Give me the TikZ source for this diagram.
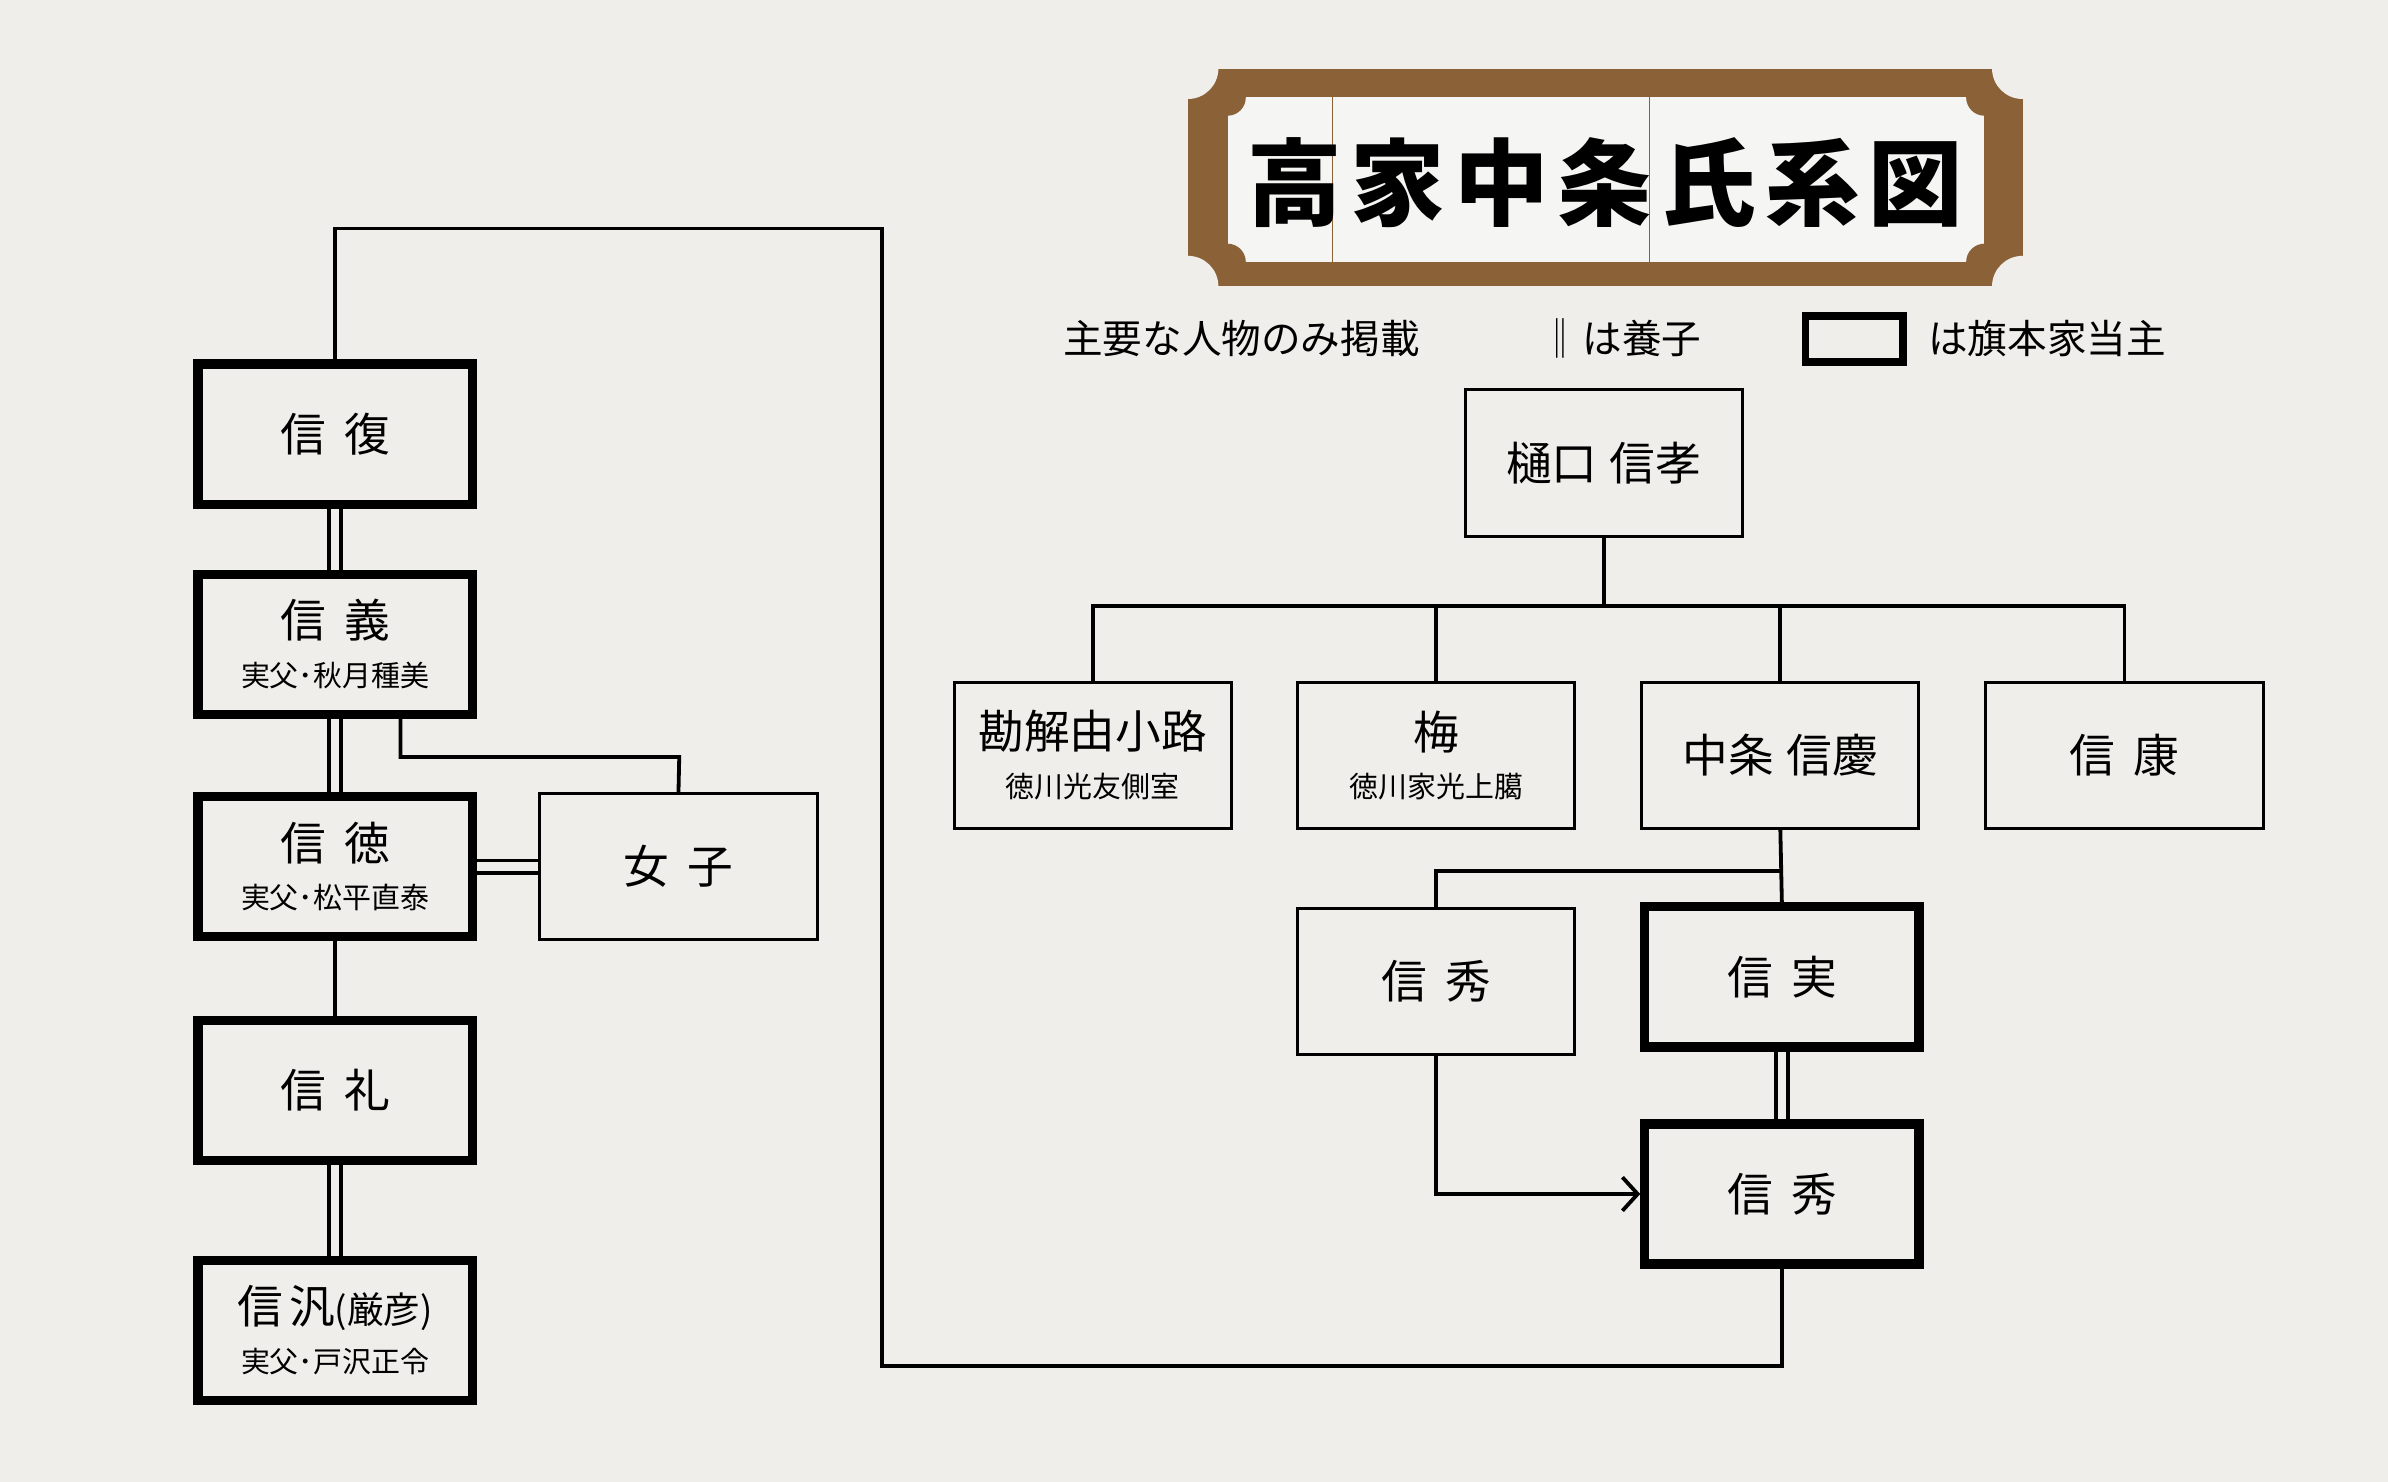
\documentclass[tikz,border=0pt]{standalone}
\usepackage{fontspec}
\setmainfont{Noto Sans CJK JP}
\newfontfamily\titlefont{Noto Sans CJK JP Black}
\usetikzlibrary{arrows.meta,calc}
\definecolor{bg}{HTML}{EFEEEA}
\definecolor{brn}{HTML}{8B6238}
\tikzset{
 thickbox/.style={draw=black,line width=6pt,minimum width=180pt,minimum height=92pt,inner sep=0pt,align=center,font=\fontsize{30}{34}\selectfont},
 thinbox/.style={draw=black,line width=2pt,minimum width=182pt,minimum height=96pt,inner sep=0pt,align=center,font=\fontsize{30}{34}\selectfont},
 conn/.style={line width=2.5pt},
 legend/.style={font=\fontsize{26}{26}\selectfont,anchor=west,inner sep=0}
}
\newcommand{\subt}[1]{\\[-2pt]{\fontsize{19}{22}\selectfont #1}}
\begin{document}
\begin{tikzpicture}[x=1pt,y=-1pt]
\useasboundingbox (0,0) rectangle (1568,973);
\fill[bg] (0,0) rectangle (1568,973);
% title frame
\fill[brn] (780,45) rectangle (1328,188);
\fill[bg!60!white] (806,64) rectangle (1303,172);
\foreach \p in {(806,64),(1303,64),(806,172),(1303,172)} \fill[brn] \p circle (12);
\foreach \p in {(780,45),(1328,45),(780,188),(1328,188)} \fill[bg] \p circle (20);
\draw[brn,line width=0.6pt] (875,64) -- (875,172) (1083,64) -- (1083,172);
\node[font=\titlefont\fontsize{62}{62}\selectfont] (title) at (1054,120) {高\hspace{6pt}家\hspace{6pt}中\hspace{6pt}条\hspace{6pt}氏\hspace{6pt}系\hspace{6pt}図};
% legend
\node[legend] (lg1) at (698,222) {主要な人物のみ掲載};
\node[legend] (lg2) at (1011,222) {‖\hspace{2pt}は養子};
\node[draw,line width=5pt,minimum width=64pt,minimum height=30pt,inner sep=0] (lgbox) at (1217.5,222.5) {};
\node[legend] (lg3) at (1266,222) {は旗本家当主};
% left column
\node[thickbox] (fuku) at (220,285) {信\hspace{12pt}復};
\node[thickbox] (yoshi) at (220,423) {信\hspace{12pt}義\subt{実父･秋月種美}};
\node[thickbox] (nori) at (220,569) {信\hspace{12pt}徳\subt{実父･松平直泰}};
\node[thickbox] (rei) at (220,716) {信\hspace{12pt}礼};
\node[thickbox] (hiro) at (220,873.5) {信\hspace{4pt}汎{\fontsize{24}{24}\selectfont(厳彦)}\subt{実父･戸沢正令}};
\node[thinbox] (jo) at (445.5,569) {女\hspace{12pt}子};
% right
\node[thinbox] (taka) at (1053,304) {樋口\hspace{8pt}信孝};
\node[thinbox] (kade) at (717.5,496) {勘解由小路\subt{徳川光友側室}};
\node[thinbox] (ume) at (943,496) {梅\subt{徳川家光上臈}};
\node[thinbox] (yoshi2) at (1169,496) {中条\hspace{8pt}信慶};
\node[thinbox] (yasu) at (1395,496) {信\hspace{12pt}康};
\node[thinbox] (hide1) at (943,644.5) {信\hspace{12pt}秀};
\node[thickbox] (sane) at (1170,641.5) {信\hspace{12pt}実};
\node[thickbox] (hide2) at (1170,784) {信\hspace{12pt}秀};
% connectors left
\draw[conn] ([xshift=-4pt]fuku.south) -- ([xshift=-4pt]yoshi.north) ([xshift=4pt]fuku.south) -- ([xshift=4pt]yoshi.north);
\draw[conn] ([xshift=-4pt]yoshi.south) -- ([xshift=-4pt]nori.north) ([xshift=4pt]yoshi.south) -- ([xshift=4pt]nori.north);
\draw[conn] (nori) -- (rei);
\draw[conn] ([xshift=-4pt]rei.south) -- ([xshift=-4pt]hiro.north) ([xshift=4pt]rei.south) -- ([xshift=4pt]hiro.north);
\draw[conn] ([xshift=43pt]yoshi.south) |- (446,497) -- (jo.north);
\draw[conn] ([yshift=-4pt]nori.east) -- ([yshift=-4pt]jo.west) ([yshift=4pt]nori.east) -- ([yshift=4pt]jo.west);
\coordinate (tl) at (220,150);
\coordinate (tr) at (579,150);
\coordinate (br) at (579,897);
\draw[conn] (fuku.north) -- (tl) -- (tr) -- (br) -| (hide2.south);
% connectors right
\coordinate (bar) at (1053,398);
\draw[conn] (taka.south) -- (bar);
\draw[conn] (kade.north) |- (yasu.north |- bar) -- (yasu.north);
\draw[conn] (ume.north) -- (ume.north |- bar);
\draw[conn] (yoshi2.north) -- (yoshi2.north |- bar);
\draw[conn] (yoshi2.south) -- (sane.north);
\draw[conn] (hide1.north) |- (1169,572);
\draw[conn] ([xshift=-4pt]sane.south) -- ([xshift=-4pt]hide2.north) ([xshift=4pt]sane.south) -- ([xshift=4pt]hide2.north);
\draw[conn,-{Straight Barb[length=10pt,width=22pt,line width=2.5pt]}] (hide1.south) |- (hide2.west);
\end{tikzpicture}
\end{document}
